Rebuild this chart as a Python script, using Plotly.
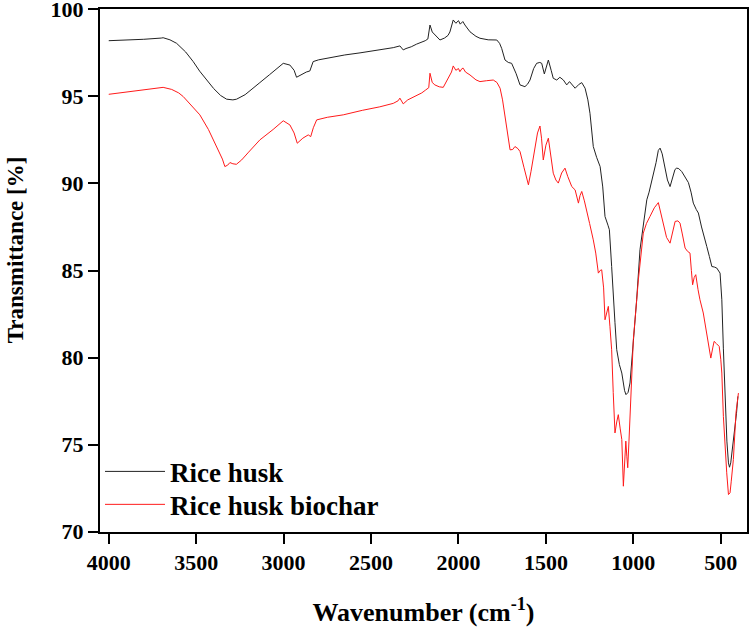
import plotly.graph_objects as go

# FTIR spectra (wavenumber in cm-1, transmittance in %)
husk_wn = [4000, 3900, 3800, 3700, 3689, 3650, 3612, 3560, 3517, 3480, 3440, 3400, 3360, 3326,
           3290, 3269, 3220, 3180, 3136, 3080, 3040, 3002, 2964, 2940, 2926, 2900, 2870, 2850,
           2831, 2800, 2754, 2700, 2650, 2563, 2500, 2450, 2400, 2373, 2335, 2316, 2300, 2270,
           2240, 2210, 2190, 2175, 2163, 2150, 2125, 2106, 2080, 2060, 2049, 2040, 2030, 2015,
           2000, 1990, 1975, 1963, 1950, 1934, 1900, 1877, 1830, 1781, 1765, 1753, 1734, 1715,
           1696, 1670, 1648, 1620, 1605, 1591, 1570, 1553, 1535, 1524, 1509, 1498, 1486, 1470,
           1458, 1438, 1420, 1400, 1381, 1365, 1352, 1333, 1310, 1295, 1276, 1260, 1248, 1229,
           1210, 1190, 1175, 1162, 1145, 1137, 1124, 1115, 1105, 1095, 1080, 1066, 1050, 1042,
           1030, 1019, 1010, 1000, 990, 981, 962, 940, 923, 910, 895, 870, 857, 847, 835, 819,
           805, 790, 775, 762, 752, 740, 723, 705, 685, 670, 657, 640, 628, 610, 595, 580, 565,
           551, 537, 523, 504, 494, 485, 475, 465, 456, 450, 443, 430, 418, 410, 402]
husk_t = [98.2, 98.22, 98.28, 98.35, 98.37, 98.25, 98.05, 97.55, 97.0, 96.45, 95.94, 95.45, 95.05, 94.84,
          94.8, 94.84, 95.1, 95.45, 95.79, 96.25, 96.6, 96.9, 96.8, 96.5, 96.1, 96.25, 96.4, 96.46,
          97.0, 97.1, 97.19, 97.3, 97.38, 97.5, 97.6, 97.68, 97.75, 97.8, 97.9, 97.67, 97.75, 97.85,
          98.0, 98.1, 98.2, 98.3, 99.1, 98.7, 98.43, 98.24, 98.35, 98.5, 98.7, 99.0, 99.39, 99.2,
          99.35, 99.15, 99.3, 99.1, 98.95, 98.71, 98.45, 98.34, 98.25, 98.24, 98.05, 97.76, 97.09, 96.95,
          96.9, 96.3, 95.66, 95.56, 95.7, 95.94, 96.6, 96.9, 96.95, 96.9, 96.29, 96.7, 97.09, 96.5,
          96.04, 95.94, 96.1, 95.94, 95.66, 95.85, 95.7, 95.47, 95.7, 95.79, 95.47, 94.8, 94.03, 92.12,
          91.5, 90.97, 89.8, 88.1, 87.6, 87.34, 85.23, 83.32, 82.0, 80.45, 79.6, 79.11, 78.1, 77.87,
          78.0, 78.54, 79.6, 81.03, 82.3, 83.32, 86.19, 88.0, 89.06, 89.5, 90.11, 91.2, 91.9, 92.03, 91.7, 90.97,
          90.2, 89.82, 90.3, 90.8, 90.88, 90.85, 90.68, 90.35, 90.05, 89.5, 88.87, 88.5, 88.3, 87.5, 87.0, 86.38, 85.8,
          85.23, 85.2, 85.14, 84.85, 83.32, 80.5, 77.58, 75.2, 73.95, 73.7, 73.95, 75.0, 76.05, 76.8, 77.77]

char_wn = [4000, 3900, 3800, 3689, 3640, 3600, 3574, 3530, 3479, 3430, 3383, 3350, 3336, 3320,
           3307, 3290, 3270, 3240, 3200, 3136, 3060, 3002, 2964, 2940, 2922, 2890, 2859, 2845,
           2830, 2811, 2750, 2659, 2550, 2450, 2373, 2345, 2335, 2316, 2290, 2250, 2210, 2190,
           2170, 2163, 2150, 2135, 2110, 2087, 2060, 2040, 2030, 2015, 2000, 1992, 1980, 1973,
           1960, 1934, 1900, 1877, 1840, 1801, 1780, 1762, 1748, 1734, 1720, 1705, 1690, 1677,
           1660, 1648, 1625, 1600, 1585, 1570, 1562, 1548, 1534, 1525, 1515, 1500, 1486, 1472,
           1458, 1443, 1429, 1410, 1391, 1375, 1352, 1333, 1314, 1305, 1295, 1280, 1267, 1250,
           1229, 1215, 1200, 1190, 1181, 1170, 1162, 1143, 1134, 1124, 1115, 1105, 1095, 1086,
           1075, 1066, 1057, 1050, 1043, 1037, 1032, 1025, 1019, 1010, 1000, 990, 981, 971, 943,
           925, 905, 880, 857, 845, 828, 810, 790, 775, 761, 745, 733, 720, 704, 690, 676, 668,
           661, 652, 643, 630, 619, 600, 590, 575, 566, 557, 545, 538, 525, 509, 500, 494, 485,
           475, 466, 456, 447, 440, 428, 413, 399]
char_t = [95.12, 95.25, 95.38, 95.52, 95.4, 95.2, 94.99, 94.5, 93.94, 93.1, 92.12, 91.4, 90.97, 91.05,
          91.2, 91.13, 91.1, 91.35, 91.8, 92.5, 93.1, 93.6, 93.36, 92.9, 92.31, 92.6, 92.79, 92.69,
          93.2, 93.65, 93.8, 93.94, 94.2, 94.4, 94.6, 94.75, 94.9, 94.57, 94.8, 95.0, 95.2, 95.35,
          95.5, 96.33, 95.8, 95.66, 95.55, 95.52, 96.0, 96.4, 96.75, 96.5, 96.6, 96.42, 96.6, 96.62,
          96.4, 96.23, 95.95, 95.85, 95.9, 95.94, 95.8, 95.47, 94.8, 93.84, 92.9, 91.93, 91.95, 92.12,
          92.0, 91.83, 90.9, 89.92, 90.7, 91.6, 92.02, 92.9, 93.3, 92.6, 91.35, 92.2, 92.6, 91.7,
          90.59, 90.2, 90.02, 90.6, 90.88, 90.4, 89.82, 89.63, 88.87, 89.3, 89.54, 89.0, 88.49, 87.7,
          86.76, 86.0, 84.85, 85.0, 85.04, 84.0, 82.17, 82.94, 81.8, 80.45, 78.0, 75.67, 76.3, 76.72,
          75.9, 75.29, 72.61, 74.0, 75.2, 74.3, 73.67, 75.2, 76.62, 78.8, 81.03, 82.2, 83.32, 84.5, 87.15,
          87.7, 88.1, 88.6, 88.9, 88.4, 87.53, 86.9, 86.57, 87.3, 87.82, 87.85, 87.72, 87.1, 86.29, 86.1, 86.0, 85.0,
          84.18, 84.6, 84.76, 83.9, 83.32, 82.56, 81.98, 81.2, 80.64, 79.97, 80.6, 80.93, 80.8, 80.64, 79.9, 79.11, 76.62,
          74.6, 73.38, 72.13, 72.23, 72.9, 74.14, 76.82, 77.96]

FONT = "Liberation Serif"
legend_style = dict(x=0.0, xanchor="left", yanchor="middle", bgcolor="rgba(0,0,0,0)",
                    itemwidth=60, visible=True, font=dict(family=FONT, size=27, weight="bold"))

fig = go.Figure()
fig.add_trace(go.Scatter(x=husk_wn, y=husk_t, mode="lines", name="Rice husk", showlegend=True,
                         line=dict(color="#222222", width=1), legend="legend"))
fig.add_trace(go.Scatter(x=char_wn, y=char_t, mode="lines", name="Rice husk biochar", showlegend=True,
                         line=dict(color="#ff1a1a", width=1), legend="legend2"))

fig.update_layout(
    width=749, height=627,
    margin=dict(l=100, r=2, t=9, b=95),
    plot_bgcolor="white", paper_bgcolor="white",
    font=dict(family=FONT, color="black"),
    showlegend=True,
    legend=dict(y=0.115, **legend_style),
    legend2=dict(y=0.052, **legend_style),
    xaxis=dict(
        range=[4050, 350], tickmode="array", automargin=False,
        tickvals=[4000, 3500, 3000, 2500, 2000, 1500, 1000, 500],
        showgrid=False, zeroline=False, ticklabeloverflow="allow",
        showline=True, linewidth=2, linecolor="black", mirror=True,
        ticks="outside", ticklen=10, tickwidth=2, tickcolor="black",
        tickfont=dict(family=FONT, size=22, weight="bold"),
        title=dict(text="Wavenumber (cm<sup>-1</sup>)", standoff=29,
                   font=dict(family=FONT, size=26, weight="bold")),
    ),
    yaxis=dict(
        range=[69.98, 100.02], tickmode="array", automargin=False,
        tickvals=[70, 75, 80, 85, 90, 95, 100],
        showgrid=False, zeroline=False, ticklabeloverflow="allow",
        showline=True, linewidth=2, linecolor="black", mirror=True,
        ticks="outside", ticklen=10, tickwidth=2, tickcolor="black",
        tickfont=dict(family=FONT, size=22, weight="bold"),
    ),
    annotations=[dict(text="Transmittance [%]", textangle=-90, showarrow=False,
                      xref="paper", yref="paper", x=-0.131, y=0.539,
                      xanchor="center", yanchor="middle",
                      font=dict(family=FONT, size=23, weight="bold"))],
)

# the page's default 8px body margin would push the figure off the 749x627 window
fig.write_html("out.html", config={"displayModeBar": False},
               post_script="document.body.style.margin='0';")
